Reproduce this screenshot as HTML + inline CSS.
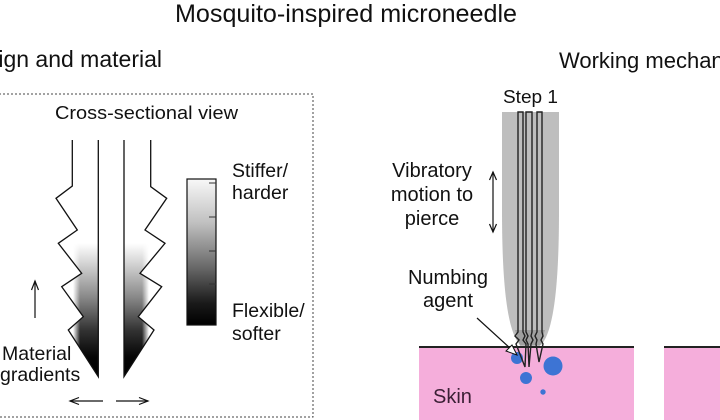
<!DOCTYPE html>
<html><head><meta charset="utf-8"><style>
html,body{margin:0;padding:0;background:#fff;}
svg{display:block;}
text{font-family:"Liberation Sans",Arial,sans-serif;fill:#111;}
</style></head><body>
<svg width="720" height="420" viewBox="0 0 720 420" xmlns="http://www.w3.org/2000/svg">
<defs>
<linearGradient id="vg" x1="0" y1="243" x2="0" y2="377" gradientUnits="userSpaceOnUse">
<stop offset="0" stop-color="#fff"/>
<stop offset="0.12" stop-color="#ddd"/>
<stop offset="0.4" stop-color="#8a8a8a"/>
<stop offset="0.65" stop-color="#333"/>
<stop offset="0.85" stop-color="#050505"/>
<stop offset="1" stop-color="#000"/>
</linearGradient>
<linearGradient id="hl" x1="73" y1="0" x2="80" y2="0" gradientUnits="userSpaceOnUse">
<stop offset="0" stop-color="#000"/><stop offset="1" stop-color="#fff"/>
</linearGradient>
<linearGradient id="hr" x1="142" y1="0" x2="149" y2="0" gradientUnits="userSpaceOnUse">
<stop offset="0" stop-color="#fff"/><stop offset="1" stop-color="#000"/>
</linearGradient>
<mask id="ml" maskUnits="userSpaceOnUse" x="0" y="0" width="720" height="420"><rect x="0" y="0" width="720" height="420" fill="url(#hl)"/></mask>
<mask id="mr" maskUnits="userSpaceOnUse" x="0" y="0" width="720" height="420"><rect x="0" y="0" width="720" height="420" fill="url(#hr)"/></mask>
<clipPath id="cl"><polygon points="72.3,140 72.3,186 56,198.3 77.3,230 58.3,243.3 81.7,273.3 61.7,286.7 83.3,316.7 68.3,330 98.3,376.7 98.3,140"/></clipPath>
<clipPath id="cr"><polygon points="150.7,140 150.7,186.7 166.7,198.3 145,230 165,243.3 140,273.3 161.7,286.7 138.3,316.7 154,330 124,376.7 124,140"/></clipPath>
<linearGradient id="cb" x1="0" y1="0" x2="0" y2="1">
<stop offset="0" stop-color="#f8f8f8"/>
<stop offset="0.3" stop-color="#c0c0c0"/>
<stop offset="0.6" stop-color="#6a6a6a"/>
<stop offset="0.85" stop-color="#1a1a1a"/>
<stop offset="1" stop-color="#000"/>
</linearGradient>
</defs>

<!-- Titles -->
<text x="175" y="22" font-size="25" textLength="342" lengthAdjust="spacingAndGlyphs">Mosquito-inspired microneedle</text>
<text x="162" y="67" font-size="23" text-anchor="end">Design and material</text>
<text x="559" y="68" font-size="22">Working mechanism</text>

<!-- Dashed box -->
<rect x="-5" y="94" width="318" height="323" fill="none" stroke="#444" stroke-width="1" stroke-dasharray="2,2"/>
<text x="55" y="119" font-size="18.5" textLength="183" lengthAdjust="spacingAndGlyphs">Cross-sectional view</text>

<!-- needle gradients -->
<g clip-path="url(#cl)"><rect x="70" y="243" width="30" height="136" fill="url(#vg)" mask="url(#ml)"/></g>
<g clip-path="url(#cr)"><rect x="122" y="243" width="30" height="136" fill="url(#vg)" mask="url(#mr)"/></g>

<!-- needles outline -->
<g fill="none" stroke="#111" stroke-width="1.3" stroke-linejoin="miter">
<polyline points="72.3,140 72.3,186 56,198.3 77.3,230 58.3,243.3 81.7,273.3 61.7,286.7 83.3,316.7 68.3,330 98.3,376.7 98.3,140"/>
<polyline points="150.7,140 150.7,186.7 166.7,198.3 145,230 165,243.3 140,273.3 161.7,286.7 138.3,316.7 154,330 124,376.7 124,140"/>
</g>

<!-- colorbar -->
<rect x="187" y="179" width="29" height="146" fill="url(#cb)" stroke="#111" stroke-width="1.2"/>
<g stroke="#333" stroke-width="1">
<line x1="209" y1="183" x2="216" y2="183"/>
<line x1="209" y1="217" x2="216" y2="217"/>
<line x1="209" y1="251" x2="216" y2="251"/>
<line x1="209" y1="284" x2="216" y2="284"/>
</g>
<text x="232" y="177" font-size="19.5">Stiffer/</text>
<text x="232" y="199" font-size="19.5">harder</text>
<text x="232" y="317" font-size="19.5">Flexible/</text>
<text x="232" y="340" font-size="19.5">softer</text>

<!-- material gradients -->
<g fill="none" stroke="#111" stroke-width="1.2">
<line x1="35" y1="318" x2="35" y2="281"/>
<polyline points="31.5,290 35,281 38.5,290"/>
<line x1="70" y1="401" x2="103" y2="401"/>
<polyline points="79,397.5 70,401 79,404.5"/>
<line x1="116" y1="401" x2="148" y2="401"/>
<polyline points="139,397.5 148,401 139,404.5"/>
</g>
<text x="2" y="360" font-size="19.5">Material</text>
<text x="0" y="381" font-size="19.5">gradients</text>

<!-- Step 1 -->
<text x="503" y="103" font-size="18" textLength="55" lengthAdjust="spacingAndGlyphs">Step 1</text>

<!-- skin -->
<rect x="419" y="347" width="215" height="73" fill="#f5aedb"/>
<rect x="664" y="347" width="56" height="73" fill="#f5aedb"/>
<line x1="419" y1="347" x2="634" y2="347" stroke="#222" stroke-width="2"/>
<line x1="664" y1="347" x2="720" y2="347" stroke="#222" stroke-width="2"/>
<text x="433" y="403" font-size="20" style="fill:#3b1f35">Skin</text>

<!-- blue circles -->
<g fill="#3d74d4">
<circle cx="517" cy="358" r="6"/>
<circle cx="526" cy="378" r="6"/>
<circle cx="553" cy="366" r="9.5"/>
<circle cx="543" cy="392" r="2.7"/>
</g>

<!-- gray motion envelope -->
<path d="M502,112 H559 V210 C559,290 553,332 541,345 H520 C508,332 502,290 502,210 Z" fill="#bebebe"/>
<path d="M515,330 L545,330 L540,346 L520,346 Z" fill="#8a8a8a" opacity="0.6"/>

<!-- step1 needles -->
<g fill="none" stroke="#222" stroke-width="1.4" stroke-linejoin="miter">
<path d="M518,112 V332 L515,336 L519,340 L516,344 L525,367 L526,344 L523,340 L525,336 L523,332 V112 Z"/>
<path d="M526,112 V332 L528,336 L526,340 L528,344 L529,367 L531,344 L533,340 L531,336 L532,332 V112 Z"/>
<path d="M537,112 V332 L535,336 L537,340 L536,344 L539,362 L543,344 L541,340 L543,336 L542,332 V112 Z"/>
</g>

<!-- vibratory -->
<text x="432" y="177" font-size="20" text-anchor="middle">Vibratory</text>
<text x="432" y="201" font-size="20" text-anchor="middle">motion to</text>
<text x="432" y="225" font-size="20" text-anchor="middle">pierce</text>
<g fill="none" stroke="#111" stroke-width="1.2">
<line x1="493" y1="172" x2="493" y2="232"/>
<polyline points="489.5,180 493,172 496.5,180"/>
<polyline points="489.5,224 493,232 496.5,224"/>
</g>

<!-- numbing agent -->
<text x="448" y="284" font-size="20" text-anchor="middle">Numbing</text>
<text x="448" y="307" font-size="20" text-anchor="middle">agent</text>
<line x1="477" y1="318" x2="511" y2="349" stroke="#111" stroke-width="1.2"/>
<polygon points="517,355 506,351 512,345" fill="#fff" stroke="#111" stroke-width="1"/>
</svg>
</body></html>
